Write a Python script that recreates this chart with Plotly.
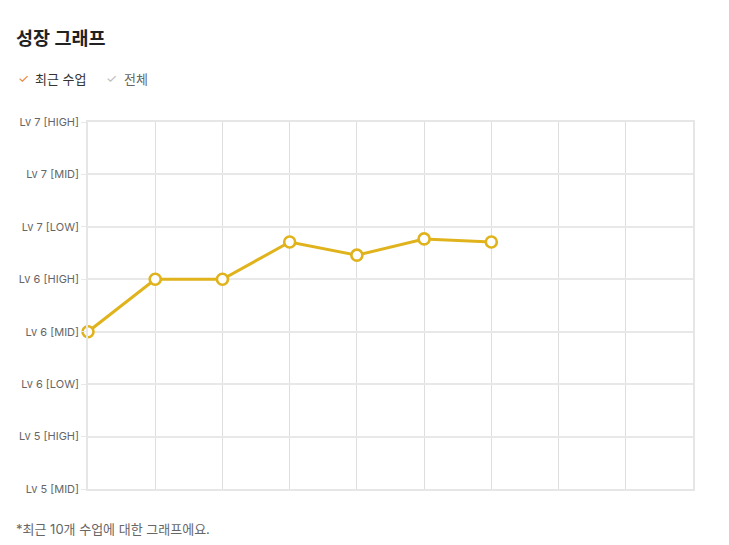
import plotly.graph_objects as go

lessons = list(range(10))
growth = [3, 4, 4, 4.71, 4.46, 4.77, 4.71]
level_labels = ["Lv 5 [MID]", "Lv 5 [HIGH]", "Lv 6 [LOW]", "Lv 6 [MID]",
                "Lv 6 [HIGH]", "Lv 7 [LOW]", "Lv 7 [MID]", "Lv 7 [HIGH]"]
level_vals = list(range(len(level_labels)))

OFF = 8  # page body margin
W, H = 729 - 2 * OFF, 545 - 2 * OFF
L, T = 88 - OFF, 122 - OFF
R = W - (693 - OFF)
B = H - (489 - OFF)
PW, PH = W - L - R, H - T - B

def px(x):
    return (x - OFF - L) / PW

def py(y):
    return (H - B - (y - OFF)) / PH

font = "Inter, Noto Sans CJK KR"
gold = "#e0b31c"

fig = go.Figure()
fig.add_trace(go.Scatter(
    x=lessons[:len(growth)], y=growth, mode="lines+markers",
    line=dict(color=gold, width=3),
    marker=dict(size=11, color="white", line=dict(color=gold, width=2.6)),
    cliponaxis=False, hoverinfo="skip", showlegend=False,
))

fig.update_layout(
    width=W, height=H,
    margin=dict(l=L, r=R, t=T, b=B),
    paper_bgcolor="white", plot_bgcolor="white",
    font=dict(family=font, color="#666"),
    xaxis=dict(range=[0, 9], tickvals=lessons, showticklabels=False,
               showgrid=True, gridcolor="#dedede", gridwidth=1,
               zeroline=False, showline=True, linecolor="#e6e6e6", linewidth=2,
               mirror=True, fixedrange=True),
    yaxis=dict(range=[0, 7], tickvals=level_vals, ticktext=level_labels,
               showgrid=True, gridcolor="#e8e8e8", gridwidth=1.5,
               zeroline=False, showline=True, linecolor="#e6e6e6", linewidth=1.5,
               mirror=True, ticks="outside", ticklen=5, tickcolor="#e8e8e8",
               tickfont=dict(size=11, color="#666", family=font),
               fixedrange=True),
)

anns = [
    dict(text="<b>성장 그래프</b>", x=14, y=38, size=18.5, color="#222"),
    dict(text="✓", x=16, y=79, size=12.5, color="#e8833a"),
    dict(text="최근 수업", x=33, y=79, size=13, color="#333"),
    dict(text="✓", x=104, y=79, size=12.5, color="#bbbbbb"),
    dict(text="전체", x=122, y=79, size=13, color="#666"),
    dict(text="*최근 10개 수업에 대한 그래프에요.", x=14, y=528.5, size=13, color="#666"),
]
for a in anns:
    fig.add_annotation(text=a["text"], xref="paper", yref="paper",
                       x=px(a["x"]), y=py(a["y"]), xanchor="left", yanchor="middle",
                       showarrow=False,
                       font=dict(size=a["size"], color=a["color"], family=font))

fig.write_html("out.html")
